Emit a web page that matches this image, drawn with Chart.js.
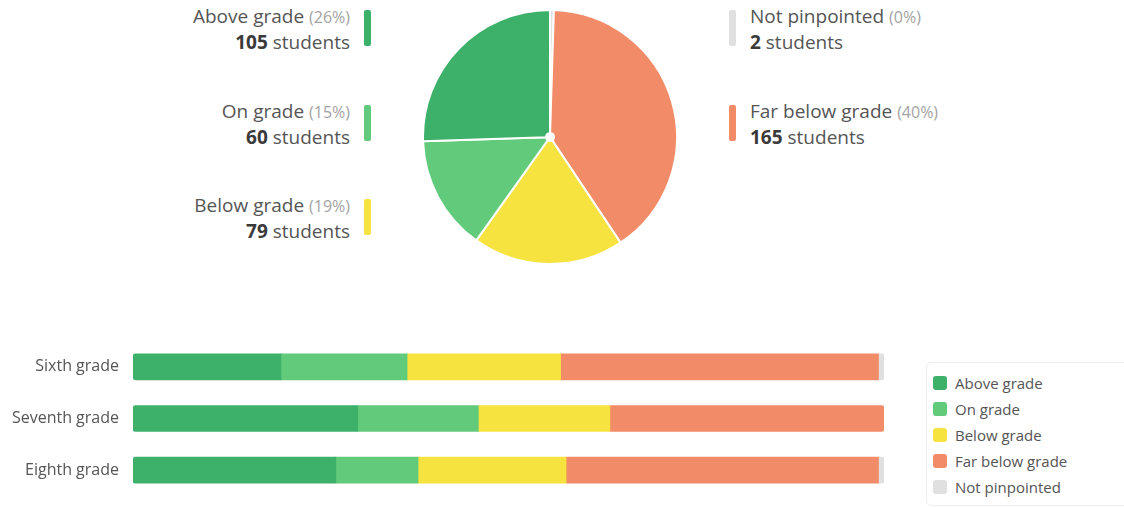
<!DOCTYPE html>
<html><head><meta charset="utf-8">
<script src="https://cdn.jsdelivr.net/npm/chart.js@4.4.1/dist/chart.umd.min.js"></script>
<style>
html,body{margin:0;padding:0;background:#fff}
body{font-family:'Open Sans',sans-serif;width:1124px;height:508px;overflow:hidden;position:relative}
.lbl{position:absolute;font-size:19px;color:#555;line-height:25px;white-space:nowrap}
.lbl .pct{font-size:16px;color:#a3a3a3}
.lbl b{color:#3a3a3a;font-weight:700}
.lbl.left{text-align:right}
.sw{position:absolute;width:7px;height:36px;border-radius:2px}
#pieWrap{position:absolute;left:422px;top:9px;width:256px;height:256px}
#barWrap{position:absolute;left:0;top:330px;width:900px;height:178px}
#legendBox{position:absolute;left:926px;top:362px;width:230px;height:144px;border:1px solid #eee;border-radius:5px;box-sizing:border-box}
.li{position:absolute;left:955px;font-size:15px;color:#555;line-height:20px;white-space:nowrap}
.lsw{position:absolute;left:933px;width:14px;height:14px;border-radius:3px}
</style>
</head><body>
<div id="pieWrap"><canvas id="pie"></canvas></div>
<div id="barWrap"><canvas id="bar"></canvas></div>
<div id="legendBox"></div>
<script>
// ---- data ----
const categories = ['Above grade', 'On grade', 'Below grade', 'Far below grade', 'Not pinpointed'];
const totals = [105, 60, 79, 165, 2];
const colors = ['#3db16a', '#62ca7b', '#f6e33f', '#f28b68', '#e0e0e0'];
const grades = ['Sixth grade', 'Seventh grade', 'Eighth grade'];
const aboveByGrade = [27, 41, 37];
const onByGrade = [23, 22, 15];
const belowByGrade = [28, 24, 27];
const farBelowByGrade = [58, 50, 57];
const notPinpointedByGrade = [1, 0, 1];
const gradeSeries = [aboveByGrade, onByGrade, belowByGrade, farBelowByGrade, notPinpointedByGrade];

const total = totals.reduce((a, b) => a + b, 0);

// ---- pie labels (HTML text) ----
const labelLayout = [
  {side: 'left', row: 0}, {side: 'left', row: 1}, {side: 'left', row: 2},
  {side: 'right', row: 1}, {side: 'right', row: 0}
];
categories.forEach((c, i) => {
  const L = labelLayout[i];
  const top = 4 + L.row * 94.5;
  const d = document.createElement('div');
  d.className = 'lbl ' + L.side;
  d.style.top = top + 'px';
  if (L.side === 'left') d.style.right = (1124 - 350) + 'px'; else d.style.left = '750px';
  const pct = Math.round(totals[i] / total * 100);
  d.innerHTML = c + ' <span class="pct">(' + pct + '%)</span><br><b>' + totals[i] + '</b> students';
  document.body.appendChild(d);
  const s = document.createElement('div');
  s.className = 'sw';
  s.style.background = colors[i];
  s.style.top = (10 + L.row * 94.5) + 'px';
  s.style.left = (L.side === 'left' ? 364 : 729) + 'px';
  document.body.appendChild(s);
});

// ---- legend (HTML) ----
categories.forEach((c, i) => {
  const cy = 383 + i * 26;
  const s = document.createElement('div');
  s.className = 'lsw'; s.style.background = colors[i]; s.style.top = (cy - 7) + 'px';
  document.body.appendChild(s);
  const t = document.createElement('div');
  t.className = 'li'; t.textContent = c; t.style.top = (cy - 10) + 'px';
  document.body.appendChild(t);
});

Chart.defaults.font.family = "'Open Sans', sans-serif";

// ---- pie ----
new Chart(document.getElementById('pie'), {
  type: 'doughnut',
  data: {
    labels: categories.slice().reverse(),
    datasets: [{
      data: totals.slice().reverse(),
      backgroundColor: colors.slice().reverse(),
      borderColor: '#ffffff',
      borderWidth: 2
    }]
  },
  options: {
    responsive: true, maintainAspectRatio: false, animation: false,
    cutout: 4,
    layout: {padding: 0},
    plugins: {legend: {display: false}, tooltip: {enabled: false}}
  }
});

// ---- stacked bars ----
function cornerRadius(ctx) {
  const di = ctx.datasetIndex, j = ctx.dataIndex;
  let first = -1, last = -1;
  gradeSeries.forEach((s, k) => { if (s[j] > 0) { if (first < 0) first = k; last = k; } });
  const r = 3;
  return {
    topLeft: di === first ? r : 0, bottomLeft: di === first ? r : 0,
    topRight: di === last ? r : 0, bottomRight: di === last ? r : 0
  };
}
new Chart(document.getElementById('bar'), {
  type: 'bar',
  data: {
    labels: grades,
    datasets: categories.map((c, i) => ({
      label: c,
      data: gradeSeries[i],
      backgroundColor: colors[i],
      borderWidth: 0,
      borderSkipped: false,
      borderRadius: cornerRadius,
      barThickness: 26
    }))
  },
  options: {
    indexAxis: 'y',
    responsive: true, maintainAspectRatio: false, animation: false,
    layout: {padding: {top: 11, bottom: 12, left: 0, right: 16}},
    scales: {
      x: {stacked: true, min: 0, max: 137, display: false},
      y: {
        stacked: true,
        grid: {display: false, drawTicks: false},
        border: {display: false},
        ticks: {color: '#555', font: {size: 16}, padding: 14},
        afterFit: s => { s.width = 133; s.paddingTop = 0; s.paddingBottom = 0; }
      }
    },
    plugins: {legend: {display: false}, tooltip: {enabled: false}}
  }
});
</script>
</body></html>
